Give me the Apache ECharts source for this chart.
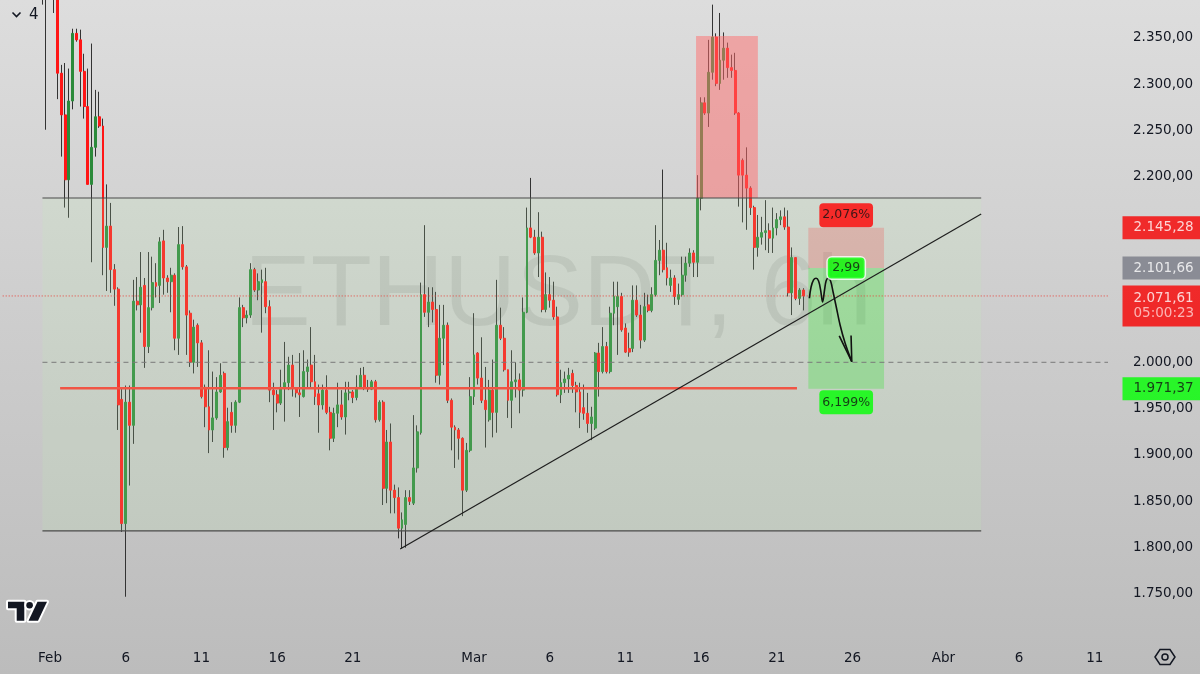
<!DOCTYPE html>
<html><head><meta charset="utf-8">
<script src="https://cdn.jsdelivr.net/npm/echarts@6/dist/echarts.min.js"></script>
<style>html,body{margin:0;padding:0;background:#ccc}#c{width:1200px;height:674px}</style>
</head><body><div id="c"></div>
<script>
// ---- time base: 6h bars counted from 2026-02-01 00:00 (k = 0) ----
const FIRST_K = -2;          // first bar that carries data
const CAT_FROM = -12, CAT_TO = 279;   // category range of the time axis (6h bars)

// ---- OHLC (ETHUSDT, 6h), bars k = -2 .. 199 ----
const open = [
2410,2420,2404,2415,2405,2312,2267,2197,2282,2355,
2348,2314,2276,2192,2232,2265,2255,2124,2147,2100,
2079,1960,1826,1957,1932,2066,2062,2083,2017,2059,
2086,2083,2131,2091,2087,2094,2026,2127,2103,2053,
2000,2040,2021,1973,1952,1927,1940,1968,1988,1908,
1946,1932,1957,2059,2048,2051,2100,2078,2086,2087,
2060,1970,1965,1956,1973,1978,1997,1972,1967,1963,
1990,1997,1979,1966,1954,1970,1946,1918,1945,1954,
1941,1967,1968,1962,1973,1986,1973,1971,1979,1938,
1957,1864,1914,1862,1854,1821,1825,1854,1848,1886,
1924,2073,2054,2065,2057,1986,2026,2040,1959,1930,
1927,1918,1862,1905,1963,2010,1983,1959,1938,1970,
1946,2040,2026,1992,1959,1979,1981,1970,2054,2145,
2135,2118,2135,2057,2073,2067,2049,1965,1978,1982,
1988,1975,1968,1951,1945,1934,1929,2010,1990,2017,
1990,2053,2060,2071,2037,2015,2015,2067,2051,2024,
2062,2056,2073,2110,2121,2102,2083,2091,2068,2073,
2094,2107,2118,2108,2177,2280,2269,2313,2351,2301,
2326,2339,2318,2315,2269,2218,2202,2188,2167,2124,
2135,2140,2142,2134,2145,2154,2157,2146,2075,2113,
2069,2078];
const close = [
2400,2404,2415,2405,2312,2267,2197,2282,2355,2348,
2314,2276,2192,2232,2265,2255,2124,2147,2100,2079,
1954,1826,1957,1932,2066,2062,2081,2017,2059,2086,
2082,2130,2091,2087,2094,2026,2127,2103,2051,2000,
2038,2021,1963,1952,1927,1940,1968,1986,1908,1936,
1932,1957,2059,2048,2051,2100,2078,2087,2089,2060,
1970,1965,1956,1973,1978,1997,1972,1967,1965,1990,
1995,1979,1963,1954,1970,1946,1918,1945,1954,1941,
1967,1968,1962,1973,1986,1973,1971,1979,1938,1957,
1864,1914,1862,1854,1821,1830,1854,1850,1886,1925,
2073,2054,2065,2057,1986,2026,2040,1959,1930,1927,
1918,1862,1905,1963,2008,1983,1959,1949,1970,1946,
2040,2026,1992,1959,1979,1981,1970,2054,2145,2135,
2118,2135,2057,2073,2067,2049,1965,1978,1982,1986,
1975,1968,1946,1945,1934,1941,2010,1990,2017,1990,
2053,2071,2071,2035,2011,2011,2067,2051,2024,2060,
2056,2073,2110,2121,2100,2091,2091,2071,2073,2094,
2107,2118,2108,2177,2280,2269,2313,2351,2301,2326,
2339,2318,2315,2269,2202,2202,2188,2167,2124,2135,
2140,2142,2134,2145,2154,2157,2146,2075,2113,2069,
2078,2071.61];
const high = [
2420,2428,2430,2425,2410,2321,2323,2317,2360,2360,
2359,2333,2317,2344,2294,2292,2263,2192,2172,2106,
2081,1972,1975,1975,2089,2092,2119,2091,2119,2114,
2107,2135,2143,2094,2102,2096,2146,2147,2105,2056,
2046,2042,2024,1976,2013,1990,1984,1999,1990,1951,
1957,1959,2070,2062,2056,2107,2102,2096,2100,2102,
2067,1978,1970,1992,2022,2006,2008,1973,2010,2013,
2003,2038,2008,1976,1976,1986,1952,1951,1978,1970,
1979,1979,1970,1986,1994,1995,1981,1981,1981,1959,
1959,1927,1934,1868,1865,1838,1862,1862,1943,1932,
2086,2148,2081,2081,2076,2062,2062,2043,1961,1932,
1929,1919,1913,1984,2053,2011,2027,1995,1981,2003,
2089,2059,2038,1992,2013,2000,1988,2070,2167,2199,
2143,2162,2141,2097,2092,2087,2060,1992,1990,1994,
1992,1979,1978,1976,1967,1952,2011,2021,2038,2022,
2060,2087,2087,2075,2042,2032,2083,2083,2062,2075,
2073,2081,2148,2132,2208,2129,2100,2094,2085,2114,
2114,2123,2121,2202,2286,2286,2348,2386,2355,2377,
2356,2345,2332,2334,2270,2220,2232,2190,2169,2159,
2157,2175,2150,2167,2161,2164,2167,2164,2124,2113,
2080,2080];
const low = [
2386,2251,2395,2377,2284,2222,2167,2156,2273,2346,
2276,2263,2192,2108,2222,2253,2094,2077,2075,2061,
1927,1817,1747,1867,1912,2056,2032,1994,2010,2056,
2070,2064,2073,2075,2054,2013,2008,2100,2008,1995,
1988,1995,1961,1930,1902,1914,1938,1967,1897,1905,
1924,1924,1956,2038,2042,2048,2076,2067,2032,2053,
1957,1927,1946,1954,1936,1970,1963,1962,1941,1962,
1973,1973,1954,1924,1949,1944,1905,1914,1930,1938,
1922,1959,1956,1959,1972,1970,1968,1970,1935,1936,
1846,1848,1837,1837,1810,1799,1800,1846,1846,1881,
1922,2049,2038,2043,1978,1976,1997,1956,1905,1886,
1895,1834,1860,1903,1954,1976,1956,1908,1936,1919,
1924,2024,1990,1940,1929,1962,1945,1963,2053,2134,
2116,2092,2054,2054,2059,2046,1963,1956,1967,1967,
1967,1946,1929,1938,1924,1916,1927,1963,1988,1988,
1988,2040,2008,2033,2010,2006,2011,2049,2015,2022,
2054,2054,2071,2094,2097,2083,2076,2062,2062,2071,
2087,2103,2092,2092,2164,2267,2254,2305,2298,2294,
2305,2307,2307,2267,2168,2151,2143,2159,2100,2114,
2127,2121,2118,2118,2137,2148,2143,2071,2051,2067,
2062,2056];

// ---- axes ----
const tickDates = ['2026-02-01 00:00','2026-02-06 00:00','2026-02-11 00:00','2026-02-16 00:00','2026-02-21 00:00',
  '2026-03-01 00:00','2026-03-06 00:00','2026-03-11 00:00','2026-03-16 00:00','2026-03-21 00:00','2026-03-26 00:00',
  '2026-04-01 00:00','2026-04-06 00:00','2026-04-11 00:00'];
const tickLabels = ['Feb','6','11','16','21','Mar','6','11','16','21','26','Abr','6','11'];
const priceMin = 1700, priceMax = 2391, priceStep = 50, firstPriceLabel = 1750;

// ---- trade setup / price tags ----
const stopPrice = 2145.28, entryPrice = 2101.66, targetPrice = 1971.37;
const countdown = '05:00:23';
const tradeTime = ['2026-03-23 02:00','2026-03-28 02:00'];

// ---- drawings ----
const rangeTime = ['2026-01-31 12:00','2026-04-03 12:00'];
const rangePrice = [1818, 2177.3];
const spikeBoxTime = ['2026-03-15 16:00','2026-03-19 18:00'];
const spikeBoxPrice = [2177.3, 2352.2];
const trendTime = ['2026-02-24 03:00','2026-04-03 12:00'];
const trendPrice = [1798.6, 2160];
const supportTime = ['2026-02-01 16:00','2026-03-22 08:00'];
const supportPrice = 1972;
const levelTime = ['2026-01-31 12:00'];
const levelPrice = 2000;
// hand-drawn projection: [bar k, price]
const arrowPath = [[200.61,2069.1],[201.06,2081.3],[201.72,2088.9],[202.38,2090.7],[203.04,2087.8],[203.57,2078.1],
  [204.1,2065.1],[204.62,2078.1],[205.02,2087.8],[205.55,2090.7],[206.21,2087.8],[206.87,2075.9],[207.66,2060.8],
  [208.72,2040.3],[210.04,2020.9],[211.81,2000.7]];
const arrowHead = [[208.5,2028.5],[211.81,2000.7],[211.62,2029]];

// ---- helpers ----
const H6 = 6 * 3600 * 1000;
const ORIGIN = Date.UTC(2026, 1, 1, 0, 0);
function kOf(s) {
  const [d, t] = s.split(' ');
  const [Y, M, D] = d.split('-').map(Number);
  const [h, m] = t.split(':').map(Number);
  return (Date.UTC(Y, M - 1, D, h, m) - ORIGIN) / H6;
}
function fmtDate(ms) {
  const d = new Date(ms), p = n => String(n).padStart(2, '0');
  return d.getUTCFullYear() + '-' + p(d.getUTCMonth() + 1) + '-' + p(d.getUTCDate()) + ' ' + p(d.getUTCHours()) + ':' + p(d.getUTCMinutes());
}
function fmtPrice(v) {
  const [i, f] = v.toFixed(2).split('.');
  return i.replace(/\B(?=(\d{3})+(?!\d))/g, '.') + ',' + f;
}
const comma = s => s.replace('.', ',');

const cats = [];
for (let k = CAT_FROM; k <= CAT_TO; k++) cats.push(fmtDate(ORIGIN + k * H6));
const tickMap = new Map(tickDates.map((d, i) => [d, tickLabels[i]]));

const wickData = [], bodyData = [];
for (let k = CAT_FROM; k <= CAT_TO; k++) {
  const j = k - FIRST_K;
  if (j >= 0 && j < open.length) {
    const o = open[j], c = close[j];
    wickData.push([o, c, low[j], high[j]]);
    bodyData.push([o, c, Math.min(o, c), Math.max(o, c)]);
  } else { wickData.push('-'); bodyData.push('-'); }
}
const lastPrice = close[close.length - 1];
const xLeft = CAT_FROM - 0.5, xRight = CAT_TO + 0.5;

// axis price labels hidden where a price tag sits on the scale: [below, above] in price units
const tagCover = [[stopPrice, 12, 12], [entryPrice, 12, 12], [lastPrice, 36, 12], [targetPrice, 12, 12]];
const covered = v => tagCover.some(([p, dn, up]) => v > p - dn && v < p + up);

const UP = '#2b8a3a', DOWN = '#ff1616', WICK = '#333333';
const FONT = 'DejaVu Sans';

function rectSeries(items, z) {
  return {
    type: 'custom', xAxisIndex: 1, yAxisIndex: 0, z, silent: true,
    encode: { x: [0, 1], y: [2, 3] },
    data: items.map(it => ({ value: [kOf(it.t[0]), kOf(it.t[1]), it.p[0], it.p[1]], itemStyle: { color: it.color } })),
    renderItem(params, api) {
      const a = api.coord([api.value(0), api.value(3)]);
      const b = api.coord([api.value(1), api.value(2)]);
      return { type: 'rect', shape: { x: a[0], y: a[1], width: b[0] - a[0], height: b[1] - a[1] }, style: { fill: api.visual('color') } };
    }
  };
}
function lineSeries(points, style, z, smooth) {
  return { type: 'line', xAxisIndex: 1, yAxisIndex: 0, z, silent: true, symbol: 'none', smooth: smooth || false,
    data: points, lineStyle: style, animation: false };
}

const tradeMid = (kOf(tradeTime[0]) + kOf(tradeTime[1])) / 2;
const stopPct = comma(((stopPrice - entryPrice) / entryPrice * 100).toFixed(3)) + '%';
const targetPct = comma(((entryPrice - targetPrice) / entryPrice * 100).toFixed(3)) + '%';
const rr = comma(((entryPrice - targetPrice) / (stopPrice - entryPrice)).toFixed(2));

const tagBase = { show: true, fontFamily: FONT, fontSize: 12.5, lineHeight: 14, color: '#111', borderRadius: 4 };
const axTag = { show: true, position: 'right', distance: 14, fontFamily: FONT, fontSize: 13.5, lineHeight: 15,
  width: 67, align: 'left', padding: [4, 0, 4, 11], color: '#fff' };

const chart = echarts.init(document.getElementById('c'), null, { renderer: 'canvas' });
chart.setOption({
  animation: false,
  backgroundColor: { type: 'linear', x: 0, y: 0, x2: 0, y2: 1,
    colorStops: [{ offset: 0, color: '#dddddd' }, { offset: 1, color: '#bcbcbc' }] },
  textStyle: { fontFamily: FONT },
  grid: { left: 2.7, right: 92, top: 0, bottom: 33.7 },
  xAxis: [
    { type: 'category', data: cats, boundaryGap: true,
      axisLine: { show: false }, axisTick: { show: false }, splitLine: { show: false },
      axisLabel: { interval: (i, v) => tickMap.has(v), formatter: v => tickMap.get(v) || '',
        color: '#131722', fontFamily: FONT, fontSize: 13.5, margin: 11 } },
    { type: 'value', min: xLeft, max: xRight, show: false }
  ],
  yAxis: { type: 'value', position: 'right', min: priceMin, max: priceMax, interval: priceStep, scale: true,
    axisLine: { show: false }, axisTick: { show: false }, splitLine: { show: false },
    axisLabel: { formatter: v => (v % priceStep === 0 && v >= firstPriceLabel && !covered(v)) ? fmtPrice(v) : '',
      color: '#131722', fontFamily: FONT, fontSize: 13.5, margin: 25, align: 'left' } },
  graphic: [
    { type: 'text', x: 558, y: 297, z: 1, silent: true,
      style: { text: 'ETHUSDT, 6h', font: '100px "Liberation Sans"', fill: 'rgba(0,0,0,0.08)',
        align: 'center', verticalAlign: 'middle', textAlign: 'center', textVerticalAlign: 'middle' } },
    { type: 'polyline', z: 10, shape: { points: [[12.5, 12.5], [16.5, 16.5], [20.5, 12.5]] },
      style: { stroke: '#131722', lineWidth: 1.6, fill: null } },
    { type: 'text', x: 29, y: 15, z: 10,
      style: { text: '4', font: '15px "DejaVu Sans"', fill: '#131722', verticalAlign: 'middle', textVerticalAlign: 'middle' } },
    { type: 'group', z: 10, children: [
      { type: 'polygon', shape: { points: [[8, 601.7], [24.3, 601.7], [24.3, 620.7], [16.7, 620.7], [16.7, 608.3], [8, 608.3]] },
        style: { fill: '#131722', stroke: '#fff', lineWidth: 4, strokeFirst: true, lineJoin: 'round' } },
      { type: 'circle', shape: { cx: 29.6, cy: 605.3, r: 3.3 },
        style: { fill: '#131722', stroke: '#fff', lineWidth: 4, strokeFirst: true } },
      { type: 'polygon', shape: { points: [[37.5, 601.7], [47, 601.7], [38, 620.7], [28.5, 620.7]] },
        style: { fill: '#131722', stroke: '#fff', lineWidth: 4, strokeFirst: true, lineJoin: 'round' } }
    ] },
    { type: 'polygon', z: 10, shape: { points: [[1155, 657], [1160, 649.5], [1170, 649.5], [1175, 657], [1170, 664.5], [1160, 664.5]] },
      style: { fill: null, stroke: '#131722', lineWidth: 1.5 } },
    { type: 'circle', z: 10, shape: { cx: 1165, cy: 657, r: 3 }, style: { fill: null, stroke: '#131722', lineWidth: 1.5 } }
  ],
  series: [
    { type: 'candlestick', name: 'wick', data: wickData, barWidth: 0, z: 2, silent: true,
      itemStyle: { color: WICK, color0: WICK, borderColor: WICK, borderColor0: WICK, borderWidth: 1 } },
    { type: 'candlestick', name: 'body', data: bodyData, barWidth: 2.4, z: 2, silent: true,
      itemStyle: { color: UP, color0: DOWN, borderColor: UP, borderColor0: DOWN, borderWidth: 1 } },
    rectSeries([
      { t: rangeTime, p: rangePrice, color: 'rgba(195,240,180,0.16)' },
      { t: spikeBoxTime, p: spikeBoxPrice, color: 'rgba(255,110,110,0.5)' },
      { t: tradeTime, p: [entryPrice, stopPrice], color: 'rgba(255,40,40,0.2)' },
      { t: tradeTime, p: [targetPrice, entryPrice], color: 'rgba(20,230,20,0.25)' }
    ], 3),
    lineSeries([[kOf(rangeTime[0]), rangePrice[1]], [kOf(rangeTime[1]), rangePrice[1]]], { color: '#4a4a4a', width: 1.2 }, 4),
    lineSeries([[kOf(rangeTime[0]), rangePrice[0]], [kOf(rangeTime[1]), rangePrice[0]]], { color: '#4a4a4a', width: 1.2 }, 4),
    lineSeries([[kOf(levelTime[0]), levelPrice], [xRight, levelPrice]], { color: '#7a7a7a', width: 1, type: [5, 4] }, 4),
    lineSeries([[xLeft, lastPrice], [xRight, lastPrice]], { color: '#e8413a', width: 1, type: [1, 2] }, 4),
    lineSeries([[kOf(supportTime[0]), supportPrice], [kOf(supportTime[1]), supportPrice]], { color: '#f05545', width: 2.5 }, 4),
    lineSeries([[kOf(trendTime[0]), trendPrice[0]], [kOf(trendTime[1]), trendPrice[1]]], { color: '#1e1e1e', width: 1.2 }, 4),
    lineSeries(arrowPath, { color: '#111', width: 1.6 }, 6, 0.35),
    lineSeries(arrowHead, { color: '#111', width: 1.6 }, 6),
    { type: 'scatter', xAxisIndex: 1, yAxisIndex: 0, z: 8, silent: true, clip: false, symbolSize: 1,
      itemStyle: { color: 'rgba(0,0,0,0)' },
      data: [
        { value: [tradeMid, stopPrice], label: Object.assign({}, tagBase, { position: 'top', distance: 0, backgroundColor: '#ff0000', padding: [5, 3], formatter: stopPct }) },
        { value: [tradeMid, entryPrice], label: Object.assign({}, tagBase, { position: 'inside', backgroundColor: '#00ff00', borderColor: '#ffffff', borderWidth: 1.5, padding: [3.5, 4.5], formatter: rr }) },
        { value: [tradeMid, targetPrice], label: Object.assign({}, tagBase, { position: 'bottom', distance: 1, backgroundColor: '#00ff00', padding: [5, 3], formatter: targetPct }) },
        { value: [xRight, stopPrice], label: Object.assign({}, axTag, { backgroundColor: '#f80000', formatter: fmtPrice(stopPrice) }) },
        { value: [xRight, entryPrice], label: Object.assign({}, axTag, { backgroundColor: '#787b86', formatter: fmtPrice(entryPrice) }) },
        { value: [xRight, lastPrice], label: Object.assign({}, axTag, { backgroundColor: '#f80000', padding: [5, 0, 5, 11], offset: [0, 10],
            formatter: '{a|' + fmtPrice(lastPrice) + '}\n{b|' + countdown + '}',
            rich: { a: { color: '#fff', fontSize: 13.5, lineHeight: 15.5, fontFamily: FONT }, b: { color: '#ffd6d6', fontSize: 13.5, lineHeight: 15.5, fontFamily: FONT } } }) },
        { value: [xRight, targetPrice], label: Object.assign({}, axTag, { backgroundColor: '#00ff00', color: '#111', formatter: fmtPrice(targetPrice) }) }
      ] }
  ]
});
</script>
</body></html>
